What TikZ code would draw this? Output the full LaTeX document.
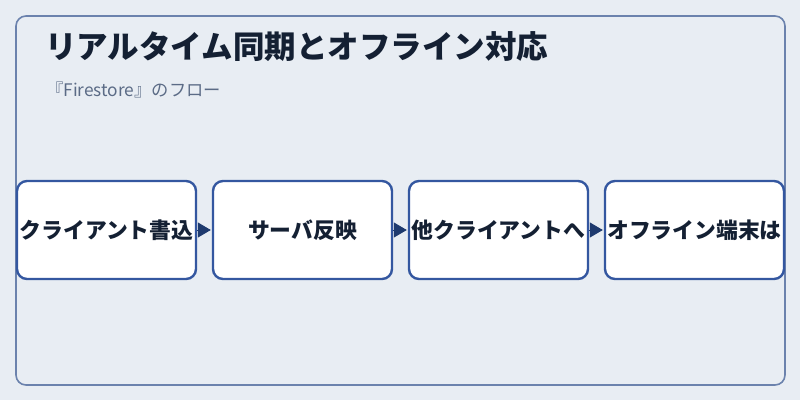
\documentclass[tikz,border=0pt]{standalone}
\usepackage{fontspec}
\setmainfont{Noto Sans CJK JP}
\usetikzlibrary{arrows.meta}

\definecolor{bgcol}{HTML}{E8EDF3}
\definecolor{framecol}{HTML}{6B82AD}
\definecolor{boxcol}{HTML}{3457A0}
\definecolor{arrowcol}{HTML}{1E3A6E}
\definecolor{titlecol}{HTML}{142033}
\definecolor{subcol}{HTML}{5B6B86}

\begin{document}
\begin{tikzpicture}[x=1pt,y=-1pt,
		stepbox/.style={rounded corners=10pt, draw=boxcol, line width=2.4pt, fill=white, text=titlecol,
			minimum width=179pt, minimum height=98pt, inner sep=0pt, font=\fontsize{21.8}{24}\selectfont\bfseries},
		flow/.style={-{Triangle[length=13pt,width=15pt]}, arrowcol, line width=1pt, shorten >=1pt}]
				\fill[bgcol] (0,0) rectangle (800,400);
				\useasboundingbox (0,0) rectangle (800,400);
				\draw[framecol, line width=1.6pt, rounded corners=10pt] (16,16) rectangle (785,385);
				
				\node[anchor=base west, inner sep=0pt, text=titlecol, font=\fontsize{31.5}{34}\selectfont\bfseries] (t) at (45,58) {リアルタイム同期とオフライン対応};
				\node[anchor=base west, inner sep=0pt, text=subcol, font=\fontsize{17.3}{19}\selectfont] (st) at (46,96) {『Firestore』のフロー};
				
				\node[stepbox] (b1) at (106.5,230) {クライアント書込};
				\node[stepbox] (b2) at (302.5,230) {サーバ反映};
				\node[stepbox] (b3) at (498.5,230) {他クライアントへ};
				\node[stepbox] (b4) at (694.5,230) {オフライン端末は};
				
				\draw[flow] (b1) -- (b2);
				\draw[flow] (b2) -- (b3);
				\draw[flow] (b3) -- (b4);
			\end{tikzpicture}
\end{document}
